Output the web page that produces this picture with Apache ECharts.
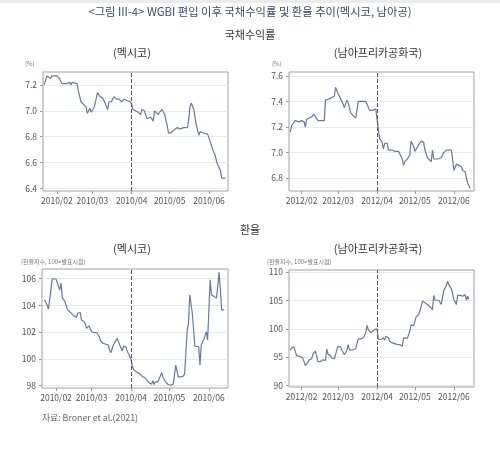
<!DOCTYPE html>
<html>
<head>
<meta charset="utf-8">
<script src="https://cdn.jsdelivr.net/npm/echarts@6/dist/echarts.min.js"></script>
<style>
  html, body { margin: 0; padding: 0; background: #fff; }
  #main { width: 500px; height: 453px; }
</style>
</head>
<body>
<div id="main"></div>
<script>
// 국채수익률 - 멕시코 (2010)
const mxYieldDates = [
  '2010-01-22','2010-01-24','2010-01-25','2010-01-27','2010-01-28','2010-01-29',
  '2010-02-01','2010-02-02','2010-02-03','2010-02-05','2010-02-07','2010-02-09','2010-02-11','2010-02-12','2010-02-13','2010-02-17','2010-02-18','2010-02-20','2010-02-22','2010-02-24','2010-02-25','2010-02-26','2010-02-27','2010-02-28',
  '2010-03-02','2010-03-03','2010-03-05','2010-03-07','2010-03-09','2010-03-11','2010-03-13','2010-03-14','2010-03-16','2010-03-18','2010-03-20','2010-03-22','2010-03-24','2010-03-26','2010-03-28','2010-03-31',
  '2010-04-01','2010-04-02','2010-04-04','2010-04-06','2010-04-08','2010-04-09','2010-04-11','2010-04-13','2010-04-14','2010-04-16','2010-04-18','2010-04-19','2010-04-22','2010-04-23','2010-04-25','2010-04-27','2010-04-29','2010-04-30',
  '2010-05-02','2010-05-04','2010-05-07','2010-05-08','2010-05-09','2010-05-12','2010-05-15','2010-05-16','2010-05-17','2010-05-18','2010-05-20','2010-05-22','2010-05-23','2010-05-24','2010-05-25','2010-05-27','2010-05-28','2010-05-31',
  '2010-06-02','2010-06-04','2010-06-06','2010-06-07','2010-06-08','2010-06-10','2010-06-11','2010-06-12','2010-06-14'
];
const mxYieldValues = [
  7.20,7.27,7.28,7.25,7.27,7.27,
  7.27,7.26,7.25,7.21,7.21,7.21,7.22,7.20,7.22,7.21,7.15,7.07,7.05,7.03,6.98,6.99,7.02,6.99,
  7.02,7.05,7.14,7.11,7.10,7.06,7.01,7.07,7.07,7.11,7.09,7.09,7.07,7.09,7.08,7.07,
  7.05,7.01,7.00,6.99,6.97,7.01,7.00,6.94,6.94,6.95,6.92,7.00,6.97,6.99,7.01,6.97,6.89,6.83,
  6.83,6.85,6.87,6.88,6.86,6.87,6.87,6.93,7.03,7.06,7.01,6.89,6.88,6.81,6.84,6.83,6.83,6.82,
  6.76,6.70,6.65,6.61,6.58,6.54,6.48,6.47,6.48
];

// 국채수익률 - 남아프리카공화국 (2012)
const zaYieldDates = [
  '2012-01-23','2012-01-24','2012-01-25','2012-01-27','2012-01-28','2012-01-30',
  '2012-02-01','2012-02-03','2012-02-04','2012-02-05','2012-02-07','2012-02-09','2012-02-10','2012-02-11','2012-02-12','2012-02-14','2012-02-16','2012-02-19','2012-02-20','2012-02-23','2012-02-25','2012-02-27','2012-02-28','2012-02-29',
  '2012-03-01','2012-03-03','2012-03-05','2012-03-06','2012-03-08','2012-03-09','2012-03-11','2012-03-13','2012-03-15','2012-03-16','2012-03-17','2012-03-20','2012-03-23','2012-03-24','2012-03-26','2012-03-28','2012-03-31',
  '2012-04-01','2012-04-02','2012-04-03','2012-04-04','2012-04-05','2012-04-06','2012-04-07','2012-04-08','2012-04-09','2012-04-10','2012-04-11','2012-04-13','2012-04-15','2012-04-18','2012-04-19','2012-04-21','2012-04-22','2012-04-23','2012-04-25','2012-04-27','2012-04-28','2012-04-30',
  '2012-05-01','2012-05-02','2012-05-04','2012-05-06','2012-05-08','2012-05-09','2012-05-11','2012-05-12','2012-05-14','2012-05-15','2012-05-16','2012-05-19','2012-05-22','2012-05-24','2012-05-26','2012-05-27','2012-05-30','2012-05-31',
  '2012-06-01','2012-06-03','2012-06-05','2012-06-07','2012-06-08','2012-06-10','2012-06-11','2012-06-12','2012-06-14'
];
const zaYieldValues = [
  7.16,7.21,7.20,7.25,7.24,7.24,
  7.25,7.24,7.20,7.26,7.27,7.28,7.28,7.30,7.28,7.25,7.25,7.25,7.41,7.42,7.43,7.44,7.51,7.50,
  7.46,7.42,7.38,7.35,7.41,7.39,7.31,7.29,7.27,7.33,7.40,7.40,7.40,7.38,7.33,7.33,7.34,
  7.33,7.18,7.11,7.11,7.08,7.03,7.07,7.06,7.075,7.02,7.03,7.02,7.01,7.01,7.00,6.95,6.90,6.93,6.95,6.98,7.09,7.05,
  7.01,7.02,7.06,7.09,7.08,7.02,6.96,6.95,6.93,7.02,6.95,6.95,6.96,7.00,7.02,7.02,7.02,6.95,
  6.86,6.91,6.90,6.89,6.86,6.85,6.80,6.76,6.72
];

// 환율 - 멕시코 (환율지수, 100=발표시점)
const mxFxDates = [
  '2010-01-23','2010-01-25','2010-01-26','2010-01-27','2010-01-28','2010-01-29','2010-01-30',
  '2010-02-01','2010-02-02','2010-02-03','2010-02-04','2010-02-05','2010-02-06','2010-02-07','2010-02-08','2010-02-09','2010-02-10','2010-02-11','2010-02-13','2010-02-14','2010-02-15','2010-02-17','2010-02-18','2010-02-20','2010-02-21','2010-02-23','2010-02-24','2010-02-25','2010-02-27','2010-02-28',
  '2010-03-01','2010-03-03','2010-03-05','2010-03-07','2010-03-08','2010-03-09','2010-03-10','2010-03-11','2010-03-14','2010-03-15','2010-03-16','2010-03-18','2010-03-19','2010-03-21','2010-03-22','2010-03-23','2010-03-24','2010-03-25','2010-03-26','2010-03-28','2010-03-29','2010-03-30','2010-03-31',
  '2010-04-01','2010-04-02','2010-04-03','2010-04-05','2010-04-08','2010-04-10','2010-04-12','2010-04-13','2010-04-15','2010-04-17','2010-04-18','2010-04-19','2010-04-20','2010-04-22','2010-04-23','2010-04-25','2010-04-26','2010-04-28','2010-04-29','2010-04-30',
  '2010-05-02','2010-05-04','2010-05-05','2010-05-06','2010-05-08','2010-05-10','2010-05-12','2010-05-13','2010-05-15','2010-05-16','2010-05-17','2010-05-19','2010-05-20','2010-05-21','2010-05-22','2010-05-24','2010-05-25','2010-05-26','2010-05-28','2010-05-30','2010-05-31',
  '2010-06-02','2010-06-03','2010-06-05','2010-06-07','2010-06-08','2010-06-09','2010-06-10','2010-06-11','2010-06-13'
];
const mxFxValues = [
  104.42,104.05,103.72,104.42,105.17,106.0,106.0,
  105.98,105.87,105.42,105.17,105.67,104.55,104.42,104.3,104.17,103.67,103.54,103.42,103.47,103.22,103.12,103.42,103.47,102.92,102.79,102.62,102.29,102.47,102.22,
  102.04,101.96,101.96,101.66,101.36,101.46,101.16,101.11,101.04,100.66,100.46,101.04,101.21,101.54,101.29,101.04,100.91,100.61,100.96,100.86,100.54,100.36,100.16,
  99.91,99.41,99.21,99.03,98.86,98.66,98.58,98.46,98.21,98.11,98.36,98.08,98.28,98.28,98.53,98.96,98.61,98.28,98.36,98.08,
  98.03,98.11,98.16,99.53,98.66,98.66,98.71,98.91,102.17,102.67,104.8,103.42,102.17,100.96,101.04,100.91,99.53,101.04,101.46,102.04,101.41,
  105.92,104.8,104.67,104.55,104.42,106.48,105.17,103.67,103.67
];

// 환율 - 남아프리카공화국
const zaFxDates = [
  '2012-01-23','2012-01-24','2012-01-26','2012-01-27','2012-01-28','2012-01-31',
  '2012-02-01','2012-02-02','2012-02-04','2012-02-05','2012-02-06','2012-02-07','2012-02-09','2012-02-10','2012-02-12','2012-02-13','2012-02-14','2012-02-15','2012-02-16','2012-02-18','2012-02-19','2012-02-20','2012-02-21','2012-02-22','2012-02-24','2012-02-25','2012-02-27','2012-02-28','2012-02-29',
  '2012-03-01','2012-03-03','2012-03-04','2012-03-06','2012-03-07','2012-03-08','2012-03-09','2012-03-10','2012-03-12','2012-03-13','2012-03-15','2012-03-17','2012-03-19','2012-03-21','2012-03-22','2012-03-23','2012-03-24','2012-03-25','2012-03-27','2012-03-28','2012-03-30',
  '2012-04-01','2012-04-02','2012-04-03','2012-04-04','2012-04-06','2012-04-07','2012-04-08','2012-04-10','2012-04-11','2012-04-13','2012-04-14','2012-04-17','2012-04-19','2012-04-21','2012-04-22','2012-04-23','2012-04-25','2012-04-27','2012-04-28','2012-04-30',
  '2012-05-01','2012-05-02','2012-05-04','2012-05-06','2012-05-07','2012-05-09','2012-05-11','2012-05-13','2012-05-15','2012-05-16','2012-05-17','2012-05-18','2012-05-20','2012-05-22','2012-05-24','2012-05-26','2012-05-27','2012-05-28','2012-05-30','2012-05-31',
  '2012-06-01','2012-06-03','2012-06-04','2012-06-06','2012-06-08','2012-06-10','2012-06-11','2012-06-12','2012-06-13'
];
const zaFxValues = [
  96.2,96.6,96.8,96.0,95.25,95.1,
  95.1,94.8,93.5,93.5,94.1,94.5,94.7,95.5,96.1,96.15,94.2,94.1,94.2,94.5,94.6,94.4,96.4,95.5,95.25,94.8,94.7,95.4,96.3,
  96.9,96.8,96.2,95.4,95.25,96.2,97.2,96.3,96.2,96.0,96.5,98.2,98.2,98.4,98.8,99.3,100.6,99.85,99.3,99.55,99.85,
  100.0,98.1,98.4,98.1,98.4,98.0,98.7,98.4,97.8,97.5,97.3,97.25,97.2,96.9,98.4,98.3,98.3,99.55,100.7,100.55,
  101.3,102.1,102.5,103.9,104.9,104.6,104.3,103.9,103.4,105.9,105.05,105.3,105.05,104.3,106.8,107.6,108.4,107.8,107.1,106.2,
  105.2,104.3,105.9,105.9,105.75,106.05,105.05,105.75,105.2
];

// 축 눈금
const mxMonthTicks = ['2010-02-01','2010-03-01','2010-04-01','2010-05-01','2010-06-01'];
const zaMonthTicks = ['2012-02-01','2012-03-01','2012-04-01','2012-05-01','2012-06-01'];
const mxYieldTicks = [6.4, 6.6, 6.8, 7.0, 7.2];
const zaYieldTicks = [6.8, 7.0, 7.2, 7.4, 7.6];
const mxFxTicks = [98, 100, 102, 104, 106];
const zaFxTicks = [90, 95, 100, 105, 110];
const mxEvent = '2010-04-01';
const zaEvent = '2012-04-01';

function ts(s) {
  const p = s.split('-').map(Number);
  return new Date(p[0], p[1] - 1, p[2]).getTime();
}
function zip(dates, values) {
  return dates.map((d, i) => [ts(d), values[i]]);
}

const FONT = '"Noto Sans CJK KR", "Noto Sans", sans-serif';
const lineColor = '#6b7896';
const labelStyle = { fontSize: 8.5, color: '#555', fontFamily: FONT };

// x축: 타임스탬프를 값 축으로 두고 월초에만 눈금
function xAxisOf(idx, ticks, min, max) {
  const vals = ticks.map(ts);
  return {
    type: 'value', gridIndex: idx, min: ts(min), max: ts(max),
    axisLine: { show: false },
    axisTick: { show: true, customValues: vals, length: 3, lineStyle: { color: '#999' } },
    axisLabel: Object.assign({
      customValues: vals, margin: 6,
      formatter: v => {
        const d = new Date(v);
        return d.getFullYear() + '/' + String(d.getMonth() + 1).padStart(2, '0');
      }
    }, labelStyle),
    splitLine: { show: false }
  };
}
function yAxisOf(idx, ticks, min, max, digits) {
  return {
    type: 'value', gridIndex: idx, min: min, max: max,
    axisLine: { show: false },
    axisTick: { show: true, customValues: ticks, length: 3, lineStyle: { color: '#999' } },
    axisLabel: Object.assign({
      customValues: ticks, margin: 6,
      formatter: v => v.toFixed(digits)
    }, labelStyle),
    splitLine: { show: true, lineStyle: { color: '#e3ebee', width: 1 } }
  };
}
function seriesOf(idx, data, event) {
  return {
    type: 'line', xAxisIndex: idx, yAxisIndex: idx, data: data,
    showSymbol: false, animation: false,
    lineStyle: { color: lineColor, width: 1.2 },
    markLine: {
      silent: true, symbol: 'none', animation: false,
      label: { show: false },
      lineStyle: { type: 'dashed', color: '#555', width: 1 },
      data: [{ xAxis: ts(event) }]
    }
  };
}
function txt(x, y, text, size, color, align) {
  return {
    type: 'text', x: x, y: y,
    style: {
      text: text, fontSize: size, fill: color, fontFamily: FONT,
      textAlign: align || 'center', textVerticalAlign: 'middle'
    }
  };
}

const gridBase = { show: true, borderColor: '#a0a0a0', borderWidth: 1, backgroundColor: 'transparent' };

const chart = echarts.init(document.getElementById('main'));
chart.setOption({
  backgroundColor: '#fff',
  animation: false,
  grid: [
    Object.assign({ left: 43, right: 272, top: 72, bottom: 262 }, gridBase),
    Object.assign({ left: 289, right: 26, top: 72, bottom: 262 }, gridBase),
    Object.assign({ left: 42, right: 272, top: 269, bottom: 65 }, gridBase),
    Object.assign({ left: 289, right: 26, top: 270, bottom: 66 }, gridBase)
  ],
  xAxis: [
    xAxisOf(0, mxMonthTicks, '2010-01-21', '2010-06-16'),
    xAxisOf(1, zaMonthTicks, '2012-01-22', '2012-06-17'),
    xAxisOf(2, mxMonthTicks, '2010-01-21', '2010-06-16'),
    xAxisOf(3, zaMonthTicks, '2012-01-22', '2012-06-17')
  ],
  yAxis: [
    yAxisOf(0, mxYieldTicks, 6.38, 7.30, 1),
    yAxisOf(1, zaYieldTicks, 6.70, 7.63, 1),
    yAxisOf(2, mxFxTicks, 97.82, 106.73, 0),
    yAxisOf(3, zaFxTicks, 89.7, 110.4, 0)
  ],
  series: [
    seriesOf(0, zip(mxYieldDates, mxYieldValues), mxEvent),
    seriesOf(1, zip(zaYieldDates, zaYieldValues), zaEvent),
    seriesOf(2, zip(mxFxDates, mxFxValues), mxEvent),
    seriesOf(3, zip(zaFxDates, zaFxValues), zaEvent)
  ],
  graphic: [
    { type: 'rect', shape: { x: 0, y: 0, width: 500, height: 3 }, style: { fill: '#ececec' } },
    txt(250, 12, '<그림 III-4> WGBI 편입 이후 국채수익률 및 환율 추이(멕시코, 남아공)', 11.3, '#3b4a6b'),
    txt(250, 35, '국채수익률', 11, '#333'),
    txt(132, 53, '(멕시코)', 11, '#333'),
    txt(378, 53, '(남아프리카공화국)', 11, '#333'),
    txt(25, 64, '(%)', 6, '#777', 'left'),
    txt(272, 64, '(%)', 6, '#777', 'left'),
    txt(250, 230, '환율', 11, '#333'),
    txt(132, 249, '(멕시코)', 11, '#333'),
    txt(378, 249, '(남아프리카공화국)', 11, '#333'),
    txt(21, 262, '(환율지수, 100=발표시점)', 6, '#777', 'left'),
    txt(267, 262, '(환율지수, 100=발표시점)', 6, '#777', 'left'),
    txt(42, 418, '자료: Broner et al.(2021)', 8.8, '#666', 'left')
  ]
});
</script>
</body>
</html>
